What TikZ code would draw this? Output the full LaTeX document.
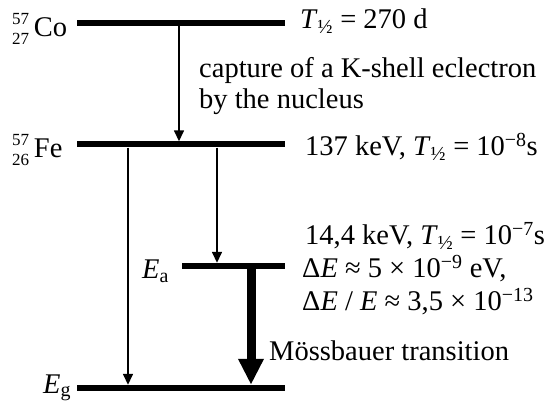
\documentclass[tikz,border=0pt]{standalone}
\usepackage{fontspec}
\setmainfont{Liberation Serif}
\usetikzlibrary{arrows.meta}
\newcommand\halflife{\textit{T}\textsubscript{½}}
\newcommand\nuclide[3]{\raisebox{-8pt}{\fontsize{17}{20}\selectfont
  \begin{tabular}[b]{@{}l@{}}#1\\#2\end{tabular}}\,#3}

\begin{document}
\begin{tikzpicture}[x=1pt, y=-1pt,
  level/.style={fill=black, inner sep=0pt, minimum height=6pt},
  txt/.style={anchor=base west, inner sep=0pt, font=\fontsize{28.5}{32}\selectfont},
  decay/.style={line width=1.5pt, -{Triangle[length=11pt, width=10pt]}},
  mossbauer/.style={line width=9pt, -{Triangle[length=26pt, width=24pt]}}]
  \useasboundingbox (0,0) rectangle (547,401);
  % energy levels
  \foreach \n/\x/\y/\w in {co/181/23/208, fe/181/144.5/208, ea/233.5/266/103, eg/181/388/208}{
    \node[level, minimum width=\w pt] (\n) at (\x,\y) {};
  }
  \coordinate (xk) at (179,0);
  \coordinate (xa) at (128,0);
  \coordinate (xb) at (217,0);
  \coordinate (xm) at (251,0);
  % transitions
  \draw[decay] (co.south -| xk) -- (fe.north -| xk);
  \draw[decay] (fe.south -| xa) -- (eg.north -| xa);
  \draw[decay] (fe.south -| xb) -- (ea.north -| xb);
  \draw[mossbauer] (ea.south -| xm) -- (eg.north -| xm);
  % labels
  \node[txt] (co-name) at (12,37) {\nuclide{57}{27}{Co}};
  \node[txt] (fe-name) at (12,158) {\nuclide{57}{26}{Fe}};
  \node[txt] (ea-name) at (142,279) {\textit{E}\textsubscript{a}};
  \node[txt] (eg-name) at (43,393) {\textit{E}\textsubscript{g}};
  \node[txt] (co-half) at (300,29) {\halflife\ = 270 d};
  \node[txt] (capt-1) at (199,78) {capture of a K-shell eclectron};
  \node[txt] (capt-2) at (199,109) {by the nucleus};
  \node[txt] (fe-half) at (305,156) {137 keV, \halflife\ = 10\textsuperscript{−8}s};
  \node[txt] (ea-half) at (305,245) {14,4 keV, \halflife\ = 10\textsuperscript{−7}s};
  \node[txt] (ea-width) at (302,278) {Δ\textit{E} ≈ 5 × 10\textsuperscript{−9} eV,};
  \node[txt] (ea-ratio) at (302,311) {Δ\textit{E} / \textit{E} ≈ 3,5 × 10\textsuperscript{−13}};
  \node[txt] (moss) at (269,360) {Mössbauer transition};
\end{tikzpicture}
\end{document}
